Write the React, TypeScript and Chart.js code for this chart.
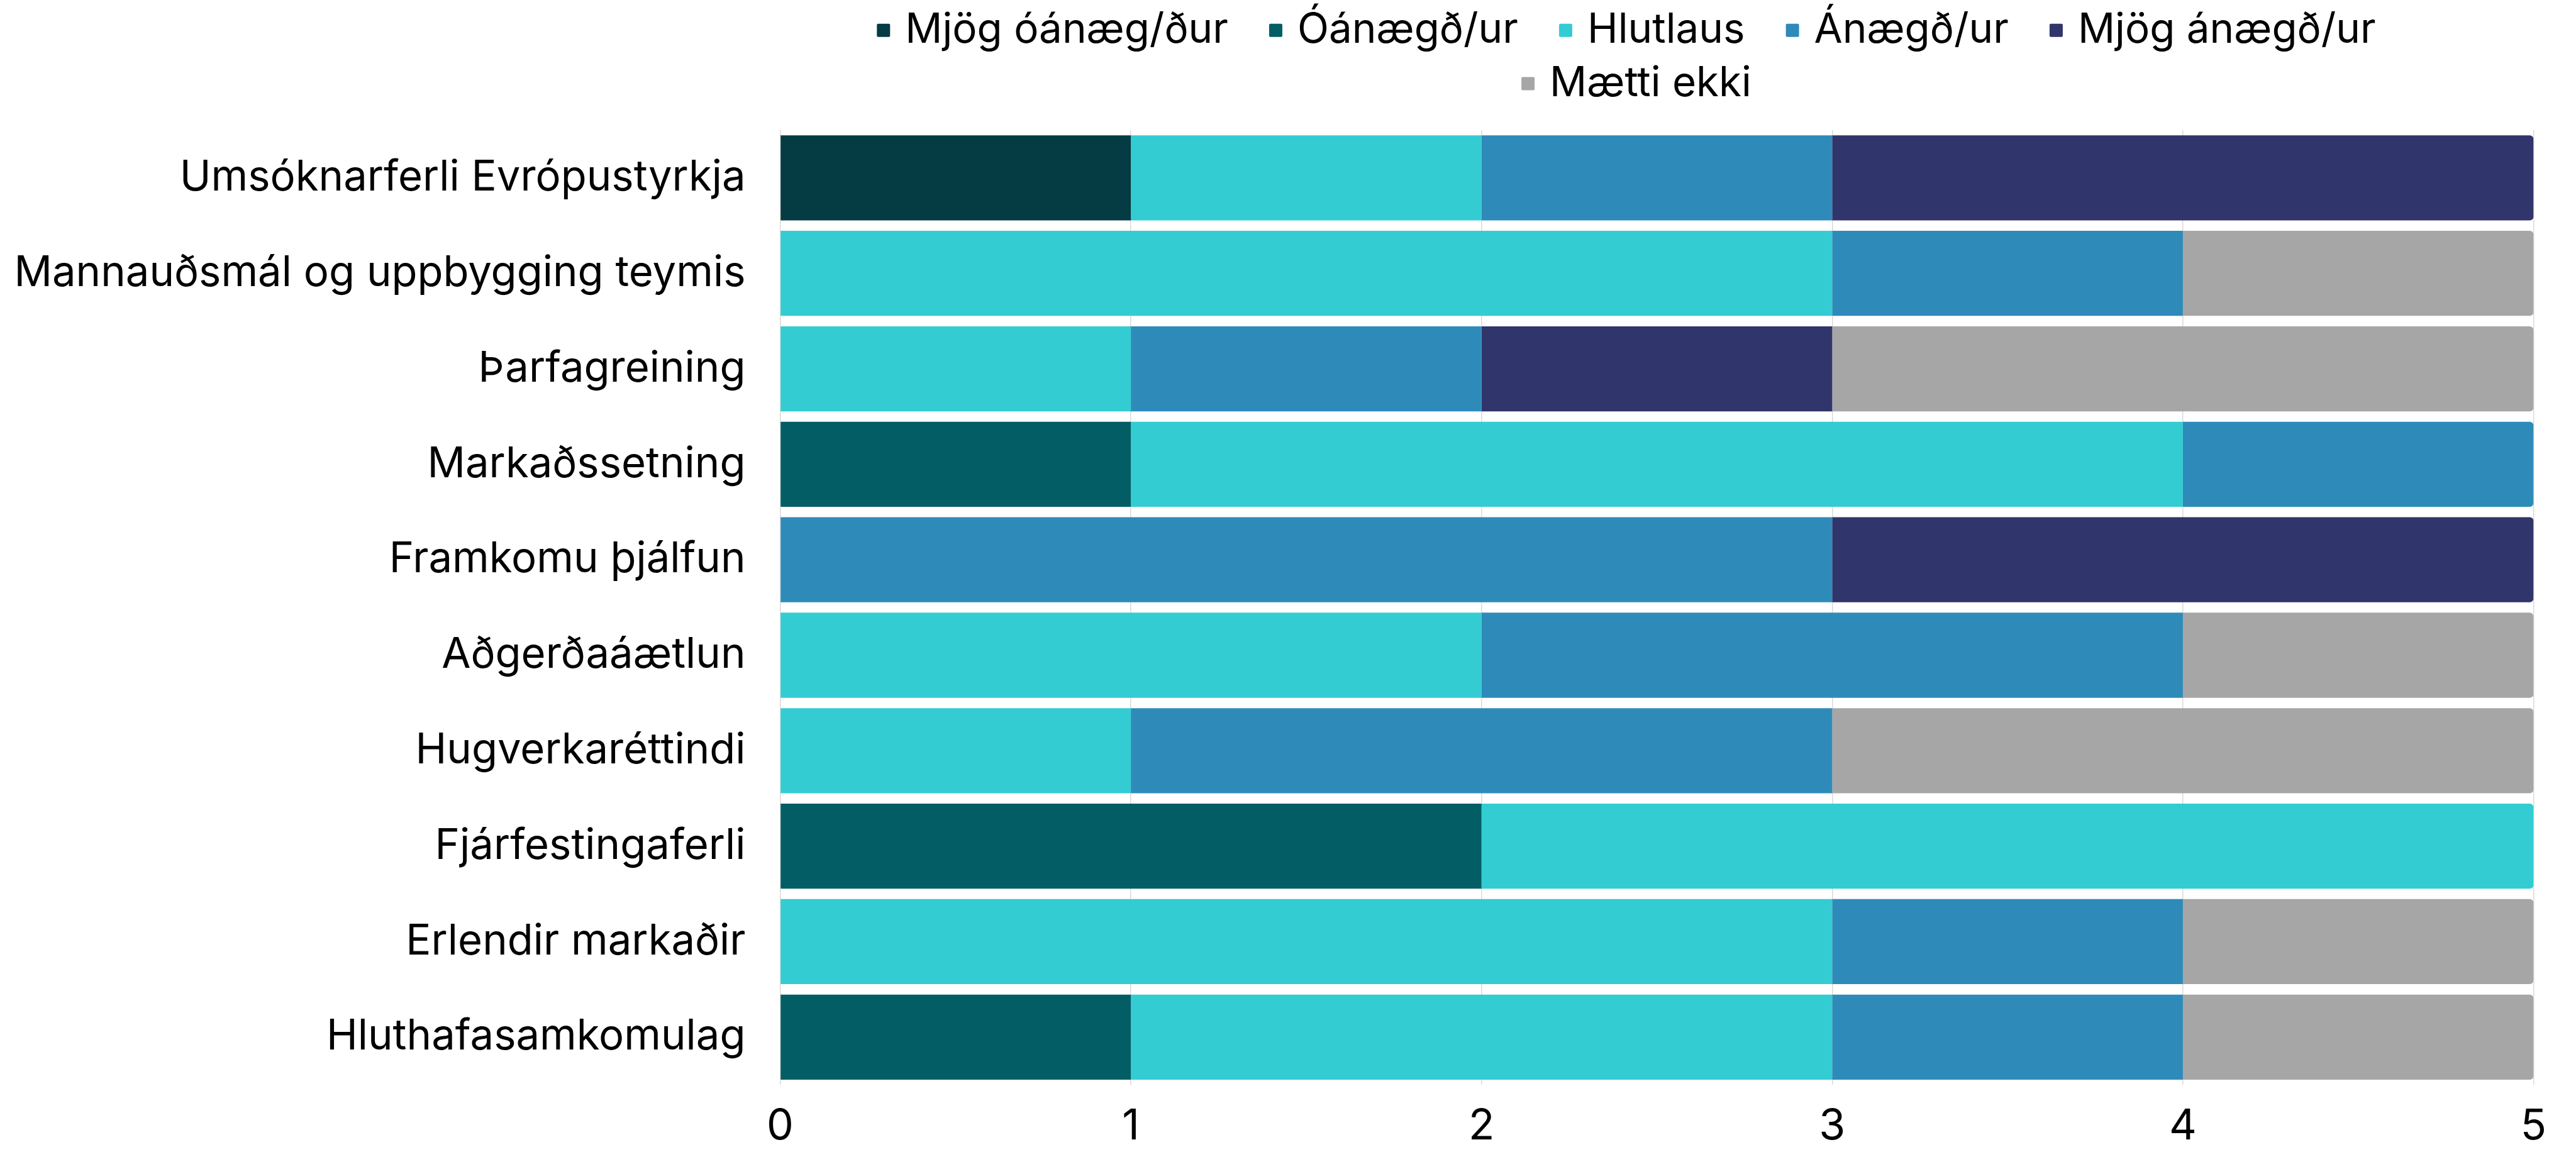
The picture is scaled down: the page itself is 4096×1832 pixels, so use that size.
import React, { useEffect, useRef } from 'react';
import { Chart, registerables } from 'chart.js';

Chart.register(...registerables);

const categories = [
  'Umsóknarferli Evrópustyrkja',
  'Mannauðsmál og uppbygging teymis',
  'Þarfagreining',
  'Markaðssetning',
  'Framkomu þjálfun',
  'Aðgerðaáætlun',
  'Hugverkaréttindi',
  'Fjárfestingaferli',
  'Erlendir markaðir',
  'Hluthafasamkomulag',
];

const seriesNames = ['Mjög óánæg/ður', 'Óánægð/ur', 'Hlutlaus', 'Ánægð/ur', 'Mjög ánægð/ur', 'Mætti ekki'];

const mjogOanaegd = [1, 0, 0, 0, 0, 0, 0, 0, 0, 0];
const oanaegd = [0, 0, 0, 1, 0, 0, 0, 2, 0, 1];
const hlutlaus = [1, 3, 1, 3, 0, 2, 1, 3, 3, 2];
const anaegd = [1, 1, 1, 1, 3, 2, 2, 0, 1, 1];
const mjogAnaegd = [2, 0, 1, 0, 2, 0, 0, 0, 0, 0];
const maettiEkki = [0, 1, 2, 0, 0, 1, 2, 0, 1, 1];

const xTicks = [0, 1, 2, 3, 4, 5];

const seriesValues = [mjogOanaegd, oanaegd, hlutlaus, anaegd, mjogAnaegd, maettiEkki];
const seriesColors = ['#053B42', '#025E64', '#33CCD3', '#2E8BB9', '#30356B', '#A6A6A6'];

const FONT = 'Inter';
const FS_TICK = 68;
const FS_LABEL = 67;
const FS_LEGEND = 65.5;

const legendRows = [[0, 1, 2, 3, 4], [5]];
const legendRowY = [48.3, 133];
const legendRowCx = [2586, 2602];
const BOX = 21;
const BOX_GAP = 24;
const ITEM_GAP = 65;

const customLegend = {
  id: 'customLegend',
  afterDraw(chart: any) {
    const ctx = chart.ctx as CanvasRenderingContext2D;
    ctx.save();
    ctx.font = `${FS_LEGEND}px ${FONT}`;
    ctx.textBaseline = 'middle';
    ctx.textAlign = 'left';
    legendRows.forEach((row, r) => {
      const widths = row.map((i) => BOX + BOX_GAP + ctx.measureText(chart.data.datasets[i].label).width);
      const total = widths.reduce((a, b) => a + b, 0) + ITEM_GAP * (row.length - 1);
      let x = legendRowCx[r] - total / 2;
      row.forEach((i, k) => {
        const y = legendRowY[r];
        ctx.fillStyle = seriesColors[i];
        ctx.beginPath();
        (ctx as any).roundRect(x, y - BOX / 2, BOX, BOX, 2);
        ctx.fill();
        ctx.fillStyle = '#000000';
        ctx.fillText(chart.data.datasets[i].label, x + BOX + BOX_GAP, y);
        x += widths[k] + ITEM_GAP;
      });
    });
    ctx.restore();
  },
};

export default function App() {
  const ref = useRef<HTMLCanvasElement>(null);

  useEffect(() => {
    if (!ref.current) return;
    Chart.defaults.font.family = FONT;
    const chart = new Chart(ref.current, {
      type: 'bar',
      data: {
        labels: categories,
        datasets: seriesNames.map((name, i) => ({
          label: name,
          data: seriesValues[i],
          backgroundColor: seriesColors[i],
          borderWidth: 0,
          borderRadius: 6,
          barPercentage: 0.99,
          categoryPercentage: 0.9,
        })),
      },
      options: {
        indexAxis: 'y',
        animation: false,
        responsive: false,
        devicePixelRatio: 1,
        layout: { padding: { top: 207, right: 67.5, bottom: 0, left: 0 } },
        plugins: {
          legend: { display: false },
          tooltip: { enabled: false },
        },
        scales: {
          x: {
            stacked: true,
            min: 0,
            max: 5,
            afterBuildTicks: (scale: any) => {
              scale.ticks = xTicks.map((v) => ({ value: v }));
            },
            afterFit: (scale: any) => {
              scale.height = 106.8;
            },
            grid: { color: '#D9D9D9', lineWidth: 1.5, drawTicks: false },
            border: { display: false },
            ticks: { color: '#000000', font: { size: FS_TICK, family: FONT }, padding: 26 },
          },
          y: {
            stacked: true,
            afterFit: (scale: any) => {
              scale.width = 1240.5;
            },
            grid: { display: false, drawTicks: false },
            border: { display: false },
            ticks: { color: '#000000', font: { size: FS_LABEL, family: FONT }, padding: 55 },
          },
        },
      },
      plugins: [customLegend],
    });
    return () => chart.destroy();
  }, []);

  return (
    <div style={{ position: 'absolute', left: 0, top: 0, width: 4096, height: 1832, background: '#ffffff' }}>
      <canvas ref={ref} width={4096} height={1832} style={{ display: 'block' }} />
    </div>
  );
}
